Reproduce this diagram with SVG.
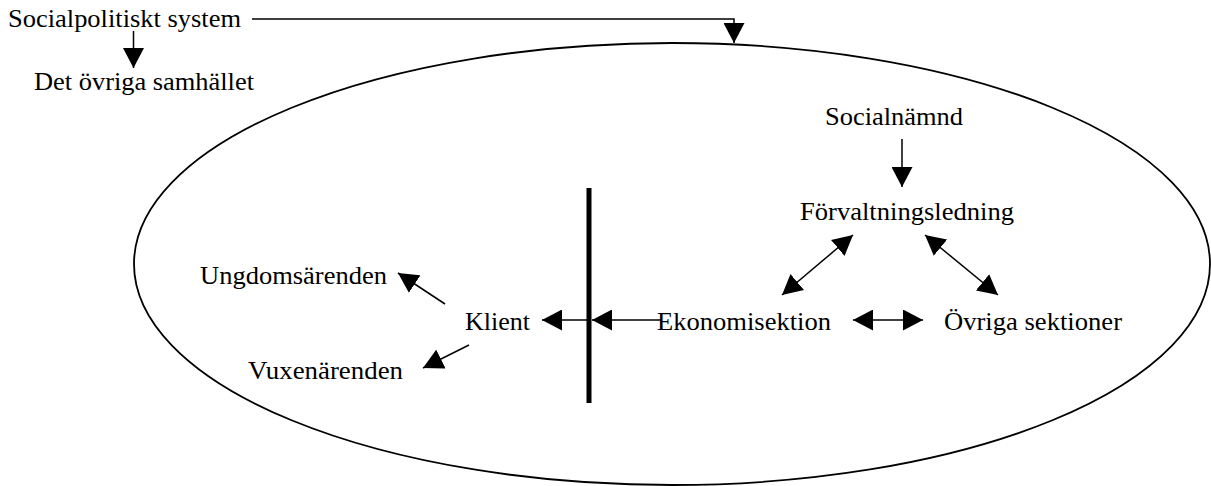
<svg xmlns="http://www.w3.org/2000/svg" width="1211" height="486" viewBox="0 0 1211 486">
<style>
text{font-family:"Liberation Serif","Times New Roman",serif;font-size:25px;fill:#000}
.c{fill:none;stroke:#000;stroke-width:1.5}
.ah{marker-end:url(#ah)}
.dh{marker-start:url(#ah);marker-end:url(#ah)}
</style>
<defs>
<marker id="ah" markerUnits="userSpaceOnUse" markerWidth="20" markerHeight="21" refX="20" refY="10.5" orient="auto-start-reverse" viewBox="0 0 20 21">
<path d="M0,0 L20,10.5 L0,21 z" fill="#000"/>
</marker>
</defs>
<rect width="1211" height="486" fill="#fff"/>
<g id="boundary">
<ellipse cx="672" cy="264" rx="538" ry="221" fill="none" stroke="#000" stroke-width="1.8"/>
</g>
<g id="divider">
<line x1="589" y1="188" x2="589" y2="403" stroke="#000" stroke-width="5"/>
</g>
<g id="n-socialpolitiskt"><text x="8" y="27" textLength="233" lengthAdjust="spacingAndGlyphs">Socialpolitiskt system</text></g>
<g id="n-ovriga-samhallet"><text x="34" y="90" textLength="220" lengthAdjust="spacingAndGlyphs">Det övriga samhället</text></g>
<g id="n-socialnamnd"><text x="825" y="125" textLength="138" lengthAdjust="spacingAndGlyphs">Socialnämnd</text></g>
<g id="n-forvaltning"><text x="800" y="220" textLength="214" lengthAdjust="spacingAndGlyphs">Förvaltningsledning</text></g>
<g id="n-ungdom"><text x="200" y="284" textLength="187" lengthAdjust="spacingAndGlyphs">Ungdomsärenden</text></g>
<g id="n-klient"><text x="465" y="330" textLength="65" lengthAdjust="spacingAndGlyphs">Klient</text></g>
<g id="n-vuxen"><text x="248" y="379" textLength="155" lengthAdjust="spacingAndGlyphs">Vuxenärenden</text></g>
<g id="n-ekonomi"><text x="657" y="330" textLength="174" lengthAdjust="spacingAndGlyphs">Ekonomisektion</text></g>
<g id="n-ovriga-sektioner"><text x="944" y="330" textLength="178" lengthAdjust="spacingAndGlyphs">Övriga sektioner</text></g>
<g id="connectors">
<path class="c ah" d="M252,19 H734 V43"/>
<line class="c ah" x1="133.5" y1="31" x2="133.5" y2="68"/>
<line class="c ah" x1="902" y1="139" x2="902" y2="187"/>
<line class="c dh" x1="853" y1="235" x2="782" y2="295"/>
<line class="c dh" x1="925" y1="235" x2="998" y2="295"/>
<line class="c dh" x1="853" y1="320" x2="923" y2="320"/>
<line class="c ah" x1="662" y1="320" x2="592" y2="320"/>
<line class="c ah" x1="589" y1="320" x2="542" y2="320"/>
<line class="c ah" x1="445" y1="304" x2="398" y2="273"/>
<line class="c ah" x1="469" y1="345" x2="423" y2="368"/>
</g>
</svg>
